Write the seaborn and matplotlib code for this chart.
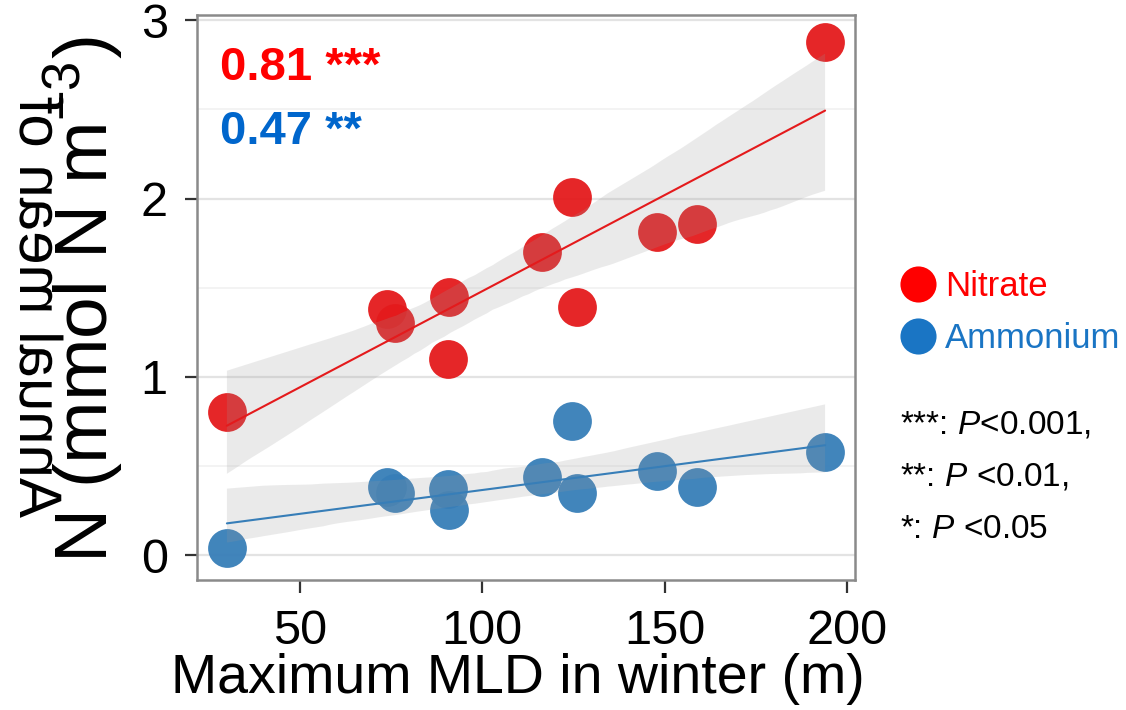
import numpy as np
import pandas as pd
import seaborn as sns
import matplotlib
matplotlib.use("Agg")
import matplotlib.pyplot as plt
import matplotlib.transforms as mtransforms
from matplotlib.textpath import TextPath
from matplotlib.patches import PathPatch
from matplotlib.font_manager import FontProperties
from matplotlib.lines import Line2D

# Station data: winter maximum mixed-layer depth and annual mean nutrient concentrations
mld = [30, 74, 76, 90.5, 91, 116.5, 124.5, 126, 148, 159, 194]
nitrate = [0.80, 1.38, 1.30, 1.10, 1.45, 1.70, 2.01, 1.39, 1.81, 1.86, 2.88]
ammonium = [0.04, 0.38, 0.35, 0.37, 0.25, 0.44, 0.75, 0.35, 0.47, 0.38, 0.58]

series_names = ["Nitrate", "Ammonium"]
r2_labels = ["0.81 ***", "0.47 **"]
x_ticks = [50, 100, 150, 200]
y_ticks = [0, 1, 2, 3]
sig_notes = [r"***: $\it{P}$<0.001,", r"**: $\it{P}$ <0.01,", r"*: $\it{P}$ <0.05"]

point_colors = ["#E41A1C", "#377EB8"]
label_colors = ["#FF0000", "#0066CC"]
legend_colors = ["#FF0000", "#1A75C4"]

sns.set_theme(style="white")
plt.rcParams["font.family"] = ["Liberation Sans", "DejaVu Sans"]
plt.rcParams["mathtext.fontset"] = "custom"
plt.rcParams["mathtext.rm"] = "Liberation Sans"
plt.rcParams["mathtext.it"] = "Liberation Sans:italic"
plt.rcParams["mathtext.bf"] = "Liberation Sans:bold"

W, H = 1126, 710
fig = plt.figure(figsize=(W / 100, H / 100), dpi=100)
ax = fig.add_axes([197 / W, 1 - 580 / H, (855 - 197) / W, (580 - 15) / H])

df = pd.DataFrame({"mld": mld, "Nitrate": nitrate, "Ammonium": ammonium})

for name, col in zip(series_names, point_colors):
    n_before = len(ax.collections)
    sns.regplot(data=df, x="mld", y=name, ax=ax, ci=95, seed=3, truncate=True,
                scatter_kws=dict(s=780, color=col, alpha=0.95, linewidths=0, zorder=3),
                line_kws=dict(color=col, lw=1.5, zorder=5))
    # grey confidence ribbon laid over the points
    for coll in ax.collections[n_before:]:
        if isinstance(coll, matplotlib.collections.PolyCollection):
            coll.set_facecolor("#999999")
            coll.set_alpha(0.2)
            coll.set_edgecolor("none")
            coll.set_zorder(4)

ax.set_xlim(21.8, 202.2)
ax.set_ylim(-0.14, 3.03)
ax.set_xticks(x_ticks)
ax.set_yticks(y_ticks)
ax.set_yticks([0.5, 1.5, 2.5], minor=True)
ax.set_xlabel("")
ax.set_ylabel("")

ax.grid(False)
for v in y_ticks:
    ax.axhline(v, color="#E3E3E3", lw=1.6, zorder=0)
for v in [0.5, 1.5, 2.5]:
    ax.axhline(v, color="#F3F3F3", lw=1.4, zorder=0)

for sp in ax.spines.values():
    sp.set_color("#8A8A8A")
    sp.set_linewidth(1.8)

ax.tick_params(axis="both", which="major", direction="out", length=9, width=1.6,
               color="#333333", labelsize=35, labelcolor="black", pad=12)
ax.tick_params(axis="both", which="minor", length=0)
ax.tick_params(left=True, bottom=True)

fig.text(518 / W, 1 - 693 / H, "Maximum MLD in winter (m)", ha="center", va="baseline",
         fontsize=40, color="black")

# R-squared annotations
bold = dict(family=["Liberation Sans"], weight="bold")
fig.text(220 / W, 1 - 80 / H, r2_labels[0], color=label_colors[0], fontsize=34,
         va="baseline", ha="left", **bold)
fig.text(220 / W, 1 - 144 / H, r2_labels[1], color=label_colors[1], fontsize=34,
         va="baseline", ha="left", **bold)

# y-axis title: unit line (normal rotation) and the mirrored first line
fig.text(84 / W, 1 - 300 / H, r"N (mmol N m$^{-3}$)", rotation=90, ha="center", va="center",
         fontsize=54, color="black")
tp = TextPath((0, 0), "Annual mean of", size=60, prop=FontProperties(family="Liberation Sans"))
mirror = mtransforms.Affine2D().rotate_deg(90).scale(-1, 1).translate(20, H - 518)
fig.add_artist(PathPatch(tp, transform=mirror, facecolor="black", edgecolor="none"))

# legend
handles = [Line2D([], [], ls="", marker="o", ms=26, color=c, markeredgewidth=0)
           for c in legend_colors]
leg = fig.legend(handles, series_names, loc="upper left", bbox_to_anchor=(901 / W, 1 - 270 / H),
                 frameon=False, fontsize=25, handletextpad=0.26, labelspacing=0.55,
                 handlelength=1.0, borderaxespad=0, borderpad=0)
for txt, c in zip(leg.get_texts(), legend_colors):
    txt.set_color(c)

# significance key
for i, note in enumerate(sig_notes):
    fig.text(900 / W, 1 - (434 + 52 * i) / H, note, fontsize=24, color="black",
             ha="left", va="baseline")

fig.savefig("out.png", dpi=100)
